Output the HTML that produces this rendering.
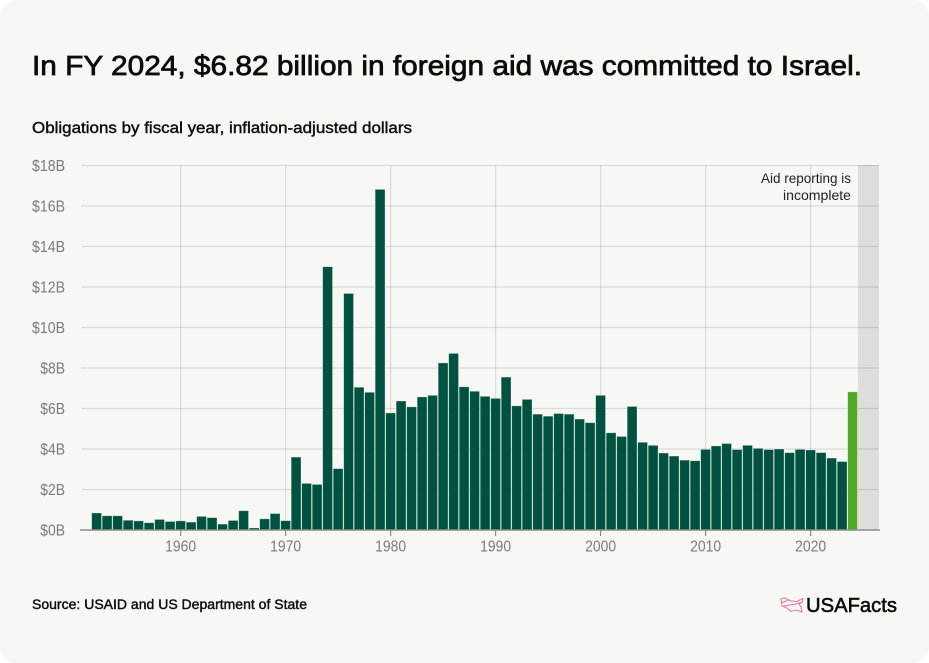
<!DOCTYPE html>
<html lang="en">
<head>
<meta charset="utf-8">
<title>Foreign aid committed to Israel</title>
<style>
html,body{margin:0;padding:0;background:#fff;width:929px;height:663px;overflow:hidden}
svg{display:block}
text{font-family:"Liberation Sans",sans-serif}
</style>
</head>
<body>
<svg id="chart" width="929" height="663" viewBox="0 0 929 663" xmlns="http://www.w3.org/2000/svg">
  <rect x="0" y="0" width="929" height="663" rx="16" fill="#f7f7f3"/>
  <text x="32" y="75" font-size="28" fill="#0c0c0c" stroke="#0c0c0c" stroke-width="0.75" textLength="830" lengthAdjust="spacingAndGlyphs">In FY 2024, $6.82 billion in foreign aid was committed to Israel.</text>
  <text x="32" y="133" font-size="15.5" fill="#0c0c0c" stroke="#0c0c0c" stroke-width="0.4" textLength="380" lengthAdjust="spacingAndGlyphs">Obligations by fiscal year, inflation-adjusted dollars</text>
  <rect x="858" y="165" width="21" height="365" fill="#dddeda"/>
  <g id="grid"></g>
  <g id="bars"></g>
  <g id="axis"></g>
  <text x="851" y="183" font-size="14" fill="#222" text-anchor="end" textLength="90" lengthAdjust="spacingAndGlyphs">Aid reporting is</text>
  <text x="851" y="200" font-size="14" fill="#222" text-anchor="end" textLength="68" lengthAdjust="spacingAndGlyphs">incomplete</text>
  <text x="32" y="609" font-size="13.5" fill="#0c0c0c" stroke="#0c0c0c" stroke-width="0.4" textLength="275" lengthAdjust="spacingAndGlyphs">Source: USAID and US Department of State</text>
  <g>
    <path d="M781 598.500 L785 598 L791 601 L797 601.500 L803 598.500 L802.500 602 L799 604 L801 607 L802 612 L796 610 L791 611.500 L787 608 L782 606 Z M781 603 L789 600 M784 606 L796 604 L802 602" fill="none" stroke="#ee6fae" stroke-width="1"/>
    <text x="806" y="612" font-size="20.500" fill="#0c0c0c" stroke="#0c0c0c" stroke-width="0.55" textLength="91" lengthAdjust="spacingAndGlyphs">USAFacts</text>
  </g>
</svg>
<script>
const years = [1952,1953,1954,1955,1956,1957,1958,1959,1960,1961,1962,1963,1964,1965,1966,1967,1968,1969,1970,1971,1972,1973,1974,1975,1976,1977,1978,1979,1980,1981,1982,1983,1984,1985,1986,1987,1988,1989,1990,1991,1992,1993,1994,1995,1996,1997,1998,1999,2000,2001,2002,2003,2004,2005,2006,2007,2008,2009,2010,2011,2012,2013,2014,2015,2016,2017,2018,2019,2020,2021,2022,2023,2024];
const obligations = [0.84,0.7,0.7,0.48,0.45,0.36,0.52,0.42,0.45,0.39,0.67,0.61,0.29,0.47,0.95,0.1,0.55,0.81,0.46,3.6,2.3,2.25,13.0,3.03,11.68,7.05,6.8,16.82,5.78,6.37,6.08,6.57,6.65,8.25,8.72,7.07,6.85,6.6,6.5,7.55,6.13,6.45,5.72,5.62,5.75,5.72,5.48,5.3,6.65,4.8,4.62,6.1,4.33,4.18,3.8,3.65,3.45,3.42,3.98,4.15,4.27,3.97,4.18,4.03,3.97,4.0,3.82,3.98,3.95,3.82,3.55,3.38,6.82];
const yTicks = [0,2,4,6,8,10,12,14,16,18];
const yTickLabels = ["$0B","$2B","$4B","$6B","$8B","$10B","$12B","$14B","$16B","$18B"];
const xTicks = [1960,1970,1980,1990,2000,2010,2020];
const highlightYear = 2024;

const NS = 'http://www.w3.org/2000/svg';
const xScale = function (year) { return 180.6 + (year - 1960) * 10.5; };
const yScale = function (value) { return 530 - value * 20.25; };
const gridGroup = document.getElementById('grid');
const barGroup = document.getElementById('bars');
const axisGroup = document.getElementById('axis');

yTicks.forEach(function (tick, i) {
  const y = yScale(tick);
  if (tick !== 0) {
    const line = document.createElementNS(NS, 'line');
    
    
    line.setAttribute('x1', 81);
    line.setAttribute('x2', 879);
    line.setAttribute('y1', y);
    line.setAttribute('y2', y);
    line.setAttribute('stroke', '#000');
    line.setAttribute('stroke-opacity', '0.115');
    line.setAttribute('stroke-width', '1.2');
    gridGroup.appendChild(line);
  }
  const label = document.createElementNS(NS, 'text');
  
  
  label.setAttribute('x', 65);
  label.setAttribute('y', y + 5.5);
  label.setAttribute('text-anchor', 'end');
  label.setAttribute('font-size', '15.5');
  label.setAttribute('fill', '#7a7a7a');
  label.setAttribute('textLength', yTickLabels[i].length * 8.25);
  label.setAttribute('lengthAdjust', 'spacingAndGlyphs');
  label.textContent = yTickLabels[i];
  axisGroup.appendChild(label);
});

xTicks.forEach(function (tick) {
  const x = xScale(tick);
  const line = document.createElementNS(NS, 'line');
  
  
  line.setAttribute('x1', x);
  line.setAttribute('x2', x);
  line.setAttribute('y1', 165);
  line.setAttribute('y2', 530);
  line.setAttribute('stroke', '#000');
  line.setAttribute('stroke-opacity', '0.115');
  line.setAttribute('stroke-width', '1.2');
  gridGroup.appendChild(line);
  const mark = document.createElementNS(NS, 'line');
  
  
  mark.setAttribute('x1', x);
  mark.setAttribute('x2', x);
  mark.setAttribute('y1', 530);
  mark.setAttribute('y2', 536);
  mark.setAttribute('stroke', '#8d8d88');
  mark.setAttribute('stroke-width', '1.2');
  axisGroup.appendChild(mark);
  const label = document.createElementNS(NS, 'text');
  
  
  label.setAttribute('x', x);
  label.setAttribute('y', 551.5);
  label.setAttribute('text-anchor', 'middle');
  label.setAttribute('font-size', '15.5');
  label.setAttribute('fill', '#7a7a7a');
  label.setAttribute('textLength', 31);
  label.setAttribute('lengthAdjust', 'spacingAndGlyphs');
  label.textContent = tick;
  axisGroup.appendChild(label);
});

years.forEach(function (year, i) {
  const top = yScale(obligations[i]);
  const bar = document.createElementNS(NS, 'rect');
  
  
  bar.setAttribute('x', xScale(year) - 4.9);
  bar.setAttribute('y', top);
  bar.setAttribute('width', 9.8);
  bar.setAttribute('height', yScale(0) - top);
  bar.setAttribute('fill', year === highlightYear ? '#4fa828' : '#005240');
  bar.setAttribute('stroke', '#ffffff');
  bar.setAttribute('stroke-opacity', '0.4');
  bar.setAttribute('stroke-width', '0.7');
  barGroup.appendChild(bar);
});

const baseline = document.createElementNS(NS, 'line');


baseline.setAttribute('x1', 80);
baseline.setAttribute('x2', 880);
baseline.setAttribute('y1', yScale(0));
baseline.setAttribute('y2', yScale(0));
baseline.setAttribute('stroke', '#8d8d88');
baseline.setAttribute('stroke-width', '1.5');
axisGroup.appendChild(baseline);
</script>
</body>
</html>
